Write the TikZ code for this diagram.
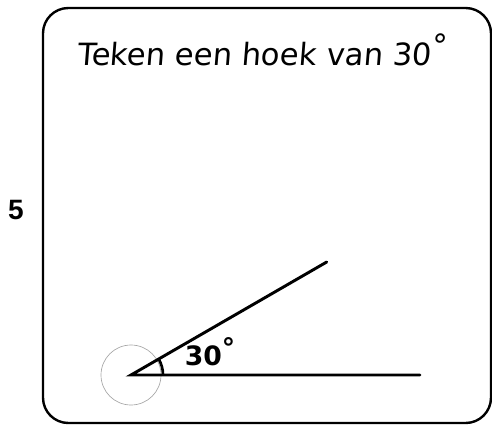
\documentclass[tikz,border=0pt]{standalone}
\usepackage{fontspec}
\setmainfont{DejaVu Sans}
\newfontfamily\numfont{Liberation Sans}
\usetikzlibrary{calc}
\newcommand\degr{\raisebox{0.55ex}{°}}

\begin{document}
\begin{tikzpicture}[x=0.75pt,y=-0.75pt,line width=2pt]
\useasboundingbox (0,0) rectangle (492,425);
\coordinate (O) at (131,375); \coordinate (P) at (420,375); \coordinate (Q) at ($(O)+(-30:226)$);
\draw[line width=1.8pt,rounded corners=19pt] (43,8) rectangle (491,423);
\node[font=\numfont\bfseries\fontsize{21}{24}\selectfont] (num) at (16,210) {5};
\node[font=\fontsize{23}{28}\selectfont\addfontfeature{FakeSlant=0.08}] (title) at (262,50) {Teken een hoek van 30\degr};
\draw[gray!70,line width=0.5pt] (O) circle (30);
\draw[line width=2.2pt,line cap=round] (Q)--(O)--(P);
\draw[line width=2pt] ($(O)+(32,0)$) arc[start angle=0,end angle=-30,radius=32];
\node[font=\bfseries\fontsize{20}{24}\selectfont] (lab) at (210,352) {30\degr};
\end{tikzpicture}
\end{document}
